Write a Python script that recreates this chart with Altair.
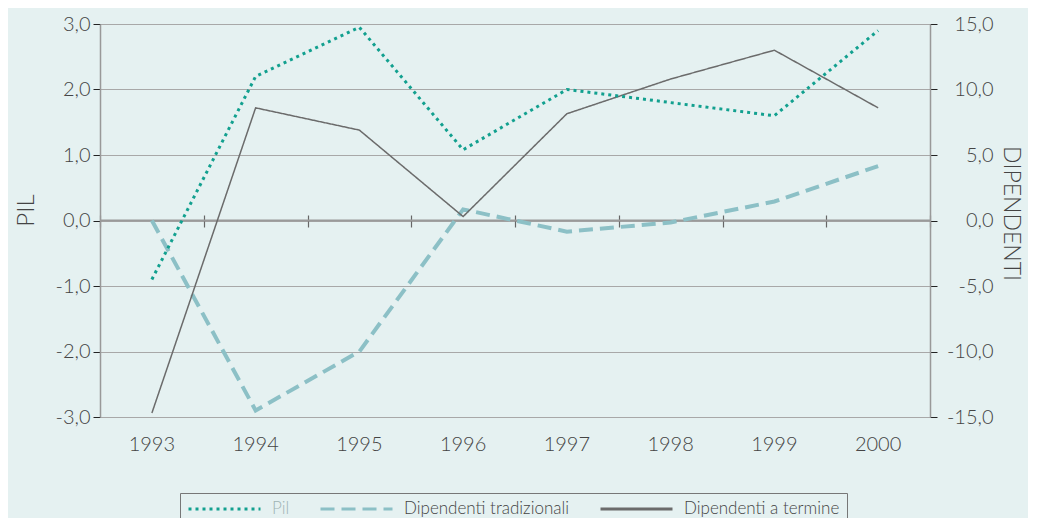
import altair as alt
import pandas as pd

anni = ["1993", "1994", "1995", "1996", "1997", "1998", "1999", "2000"]
pil = [-0.9, 2.2, 2.95, 1.08, 2.0, 1.8, 1.6, 2.9]
dip_tradizionali = [0.0, -14.5, -10.0, 0.85, -0.85, -0.15, 1.45, 4.15]
dip_termine = [-14.7, 8.6, 6.9, 0.3, 8.15, 10.8, 13.0, 8.6]
serie = ["Pil", "Dipendenti tradizionali", "Dipendenti a termine"]
colori = ["#12a08f", "#8cc0c6", "#6b6b6b"]
tratti = [[3, 4], [14, 7], [1, 0]]
pil_ticks = [-3, -2, -1, 0, 1, 2, 3]
dip_ticks = [-15, -10, -5, 0, 5, 10, 15]
zero_line = [0.0]

rows = []
for s, vals in zip(serie, [pil, dip_tradizionali, dip_termine]):
    for a, v in zip(anni, vals):
        rows.append({"anno": a, "serie": s, "valore": v})
df = pd.DataFrame(rows)
zdf = pd.DataFrame({"z": zero_line})

FONT = "Lato"
W = 300
TXT = "#444444"
xscale = alt.Scale(type="band", paddingInner=0, paddingOuter=0, domain=anni)

legend = alt.Legend(
    orient="none", legendX=80, legendY=469, direction="horizontal", title=None,
    symbolType="stroke", symbolSize=5184, symbolStrokeWidth=3, clipHeight=18,
    labelFontSize=17, labelFont=FONT, labelFontWeight=W, labelOffset=10, columnPadding=29,
    labelLimit=400, padding=7, strokeColor="#777777",
    labelColor=alt.ExprRef(expr="datum.label === 'Pil' ? '#9fb4b4' : '#444444'"),
)
col = alt.Color("serie:N", scale=alt.Scale(domain=serie, range=colori), legend=legend)
dash = alt.StrokeDash("serie:N", scale=alt.Scale(domain=serie, range=tratti), legend=legend)

fmt = "replace(replace(format(datum.value, '.1f'), '.', ','), '\u2212', '-')"

# Zero line (left scale)
zero_rule = alt.Chart(zdf).mark_rule(color="#9a9a9a", strokeWidth=2).encode(
    y=alt.Y("z:Q", scale=alt.Scale(domain=[-3, 3], nice=False, zero=False), axis=None))

# Left axis (PIL)
x_bottom = alt.X("anno:O", scale=xscale, title=None, axis=alt.Axis(
    orient="bottom", domain=False, ticks=False, grid=False, labelAngle=0,
    labelFontSize=20, labelFont=FONT, labelFontWeight=W, labelColor=TXT, labelPadding=17))
y_left = alt.Y("valore:Q", scale=alt.Scale(domain=[-3, 3], nice=False, zero=False),
               axis=alt.Axis(orient="left", values=pil_ticks, labelExpr=fmt, grid=True,
                             gridColor="#a8a8a8", gridWidth=1, domainColor="#999999",
                             domainWidth=1.5, tickColor="#222222", tickSize=7,
                             labelFontSize=20, labelFont=FONT, labelFontWeight=W,
                             labelColor=TXT, labelPadding=3, title="PIL", titleFontSize=24,
                             titleFont=FONT, titleFontWeight=W, titleColor=TXT,
                             titleX=-74, titleY=186, titleBaseline="middle", titleAngle=270))
pil_layer = alt.Chart(df).transform_filter(alt.datum.serie == "Pil").mark_line(
    interpolate="linear", strokeWidth=3).encode(x=x_bottom, y=y_left, color=col, strokeDash=dash)

# Right axis (DIPENDENTI)
x_zero = alt.X("anno:O", scale=xscale, title=None, axis=alt.Axis(
    orient="top", offset=-203, domain=False, labels=False, grid=False,
    ticks=True, tickBand="extent", tickSize=12, tickColor="#666666", tickWidth=1.2))
y_right = alt.Y("valore:Q", scale=alt.Scale(domain=[-15, 15], nice=False, zero=False),
                axis=alt.Axis(orient="right", values=dip_ticks, labelExpr=fmt, grid=False,
                              domainColor="#999999", domainWidth=1.5, tickColor="#222222",
                              tickSize=7, labelFontSize=20, labelFont=FONT, labelFontWeight=W,
                              labelColor=TXT, labelAlign="right", labelPadding=56,
                              title="DIPENDENTI", titleFontSize=23, titleFont=FONT,
                              titleFontWeight=W, titleColor=TXT,
                              titleX=80, titleY=189, titleBaseline="middle", titleAngle=90))
trad = alt.Chart(df).transform_filter(alt.datum.serie == "Dipendenti tradizionali").mark_line(
    interpolate="linear", strokeWidth=4).encode(x=x_zero, y=y_right, color=col, strokeDash=dash)
term = alt.Chart(df).transform_filter(alt.datum.serie == "Dipendenti a termine").mark_line(
    interpolate="linear", strokeWidth=1.5).encode(x=x_zero, y=y_right, color=col, strokeDash=dash)
right_layer = alt.layer(trad, term)

chart = alt.layer(zero_rule, right_layer, pil_layer).resolve_scale(y="independent").resolve_axis(
    x="independent").properties(
    width=830, height=393,
    autosize=alt.AutoSizeParams(type="none"),
    padding={"left": 92, "top": 16, "right": 98, "bottom": 101},
    background="#e5f1f1",
).configure_view(stroke=None)

chart.save("out.html", embed_options={"renderer": "svg", "actions": False})
